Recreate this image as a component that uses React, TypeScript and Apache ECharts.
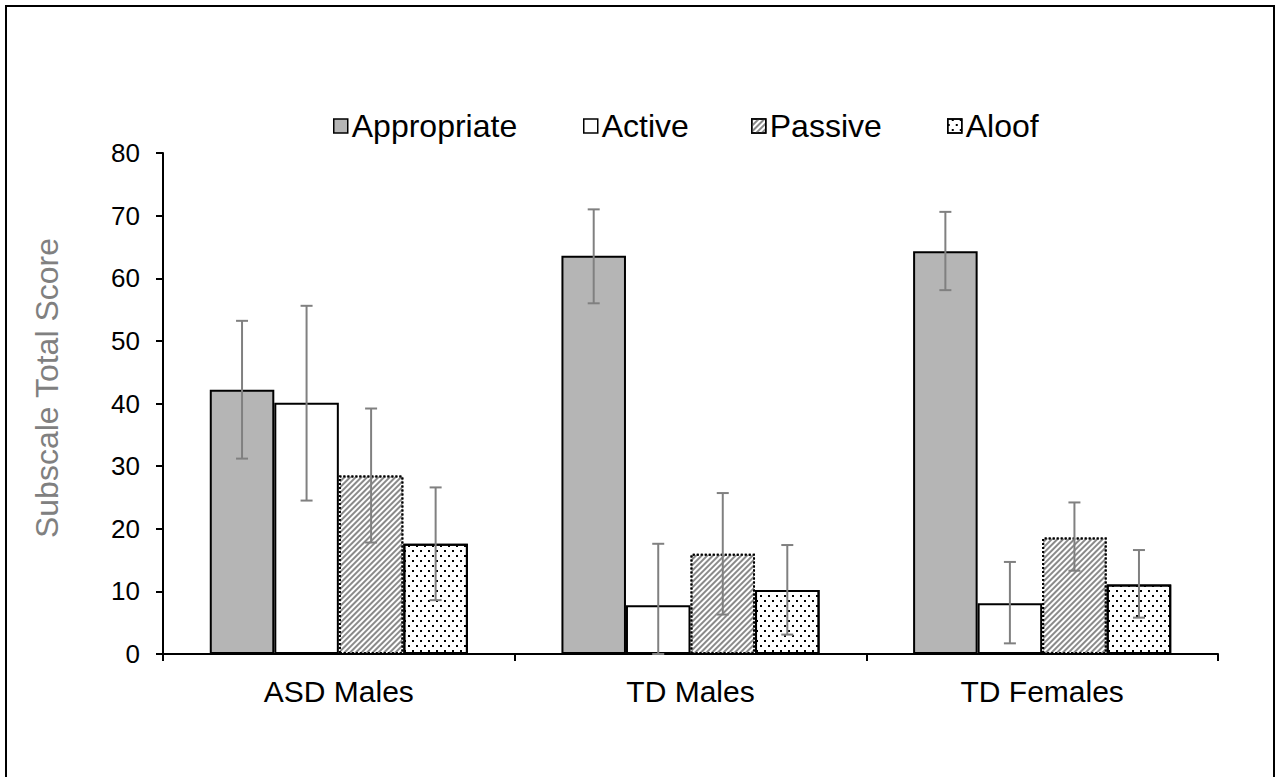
import React, { useEffect, useRef } from "react";
import * as echarts from "echarts";

const categories = ["ASD Males", "TD Males", "TD Females"];
const seriesNames = ["Appropriate", "Active", "Passive", "Aloof"];
const yTicks = [0, 10, 20, 30, 40, 50, 60, 70, 80];
const yTitle = "Subscale Total Score";

const appropriate = [42.2, 63.6, 64.3];
const active = [40.1, 7.8, 8.1];
const passive = [28.5, 16.0, 18.6];
const aloof = [17.6, 10.2, 11.1];

const appropriateLow = [31.2, 56.0, 58.1];
const appropriateHigh = [53.2, 71.0, 70.6];
const activeLow = [24.5, 0, 1.7];
const activeHigh = [55.6, 17.6, 14.7];
const passiveLow = [17.8, 6.3, 13.3];
const passiveHigh = [39.2, 25.7, 24.2];
const aloofLow = [8.6, 3.1, 5.8];
const aloofHigh = [26.6, 17.4, 16.6];

const FONT = "'Liberation Sans', Arial, sans-serif";
const GAP = 0.266;
const legendLefts = [333, 583, 751, 947];

export default function App() {
  const ref = useRef<HTMLDivElement>(null);
  useEffect(() => {
    if (!ref.current) return;
    const chart = echarts.init(ref.current, null, { renderer: "svg" });
    const values = [appropriate, active, passive, aloof];
    const lows = [appropriateLow, activeLow, passiveLow, aloofLow];
    const highs = [appropriateHigh, activeHigh, passiveHigh, aloofHigh];

    const styles: any[] = [
      { color: "#b5b5b5", borderColor: "#000", borderWidth: 2 },
      { color: "#ffffff", borderColor: "#000", borderWidth: 2 },
      {
        color: "#ffffff",
        borderColor: "#000",
        borderWidth: 2,
        borderType: "dotted",
        decal: {
          symbol: "rect",
          symbolSize: 1,
          color: "#8a8a8a",
          backgroundColor: "#ffffff",
          dashArrayX: [1, 0],
          dashArrayY: [1.7, 1.6],
          rotation: -Math.PI / 4,
        },
      },
      {
        color: "#ffffff",
        borderColor: "#000",
        borderWidth: 2,
        decal: {
          symbol: "rect",
          symbolSize: 1,
          color: "#000000",
          backgroundColor: "#ffffff",
          dashArrayX: [
            [1.5, 5.5],
            [0, 3.5, 1.5, 2],
          ],
          dashArrayY: [1.5, 2.5],
          rotation: 0,
        },
      },
    ];

    const barSeries = seriesNames.map((name, i) => ({
      name,
      type: "bar",
      data: values[i],
      barGap: "0%",
      barCategoryGap: (GAP * 100).toFixed(1) + "%",
      itemStyle: styles[i],
      emphasis: { disabled: true },
      z: 2,
    }));

    const errorSeries = seriesNames.map((name, i) => ({
      name: name + " error",
      type: "custom",
      z: 5,
      data: categories.map((_, c) => [c, lows[i][c], highs[i][c]]),
      renderItem: (params: any, api: any) => {
        const c = api.value(0);
        const lo = api.coord([c, api.value(1)]);
        const hi = api.coord([c, api.value(2)]);
        const band = api.size([1, 0])[0];
        const bw = (band * (1 - GAP)) / 4;
        const x = lo[0] + (i - 1.5) * bw;
        const cap = 6;
        const st = { stroke: "#808080", lineWidth: 2 };
        return {
          type: "group",
          children: [
            { type: "line", shape: { x1: x, y1: lo[1], x2: x, y2: hi[1] }, style: st },
            { type: "line", shape: { x1: x - cap, y1: hi[1], x2: x + cap, y2: hi[1] }, style: st },
            { type: "line", shape: { x1: x - cap, y1: lo[1], x2: x + cap, y2: lo[1] }, style: st },
          ],
        };
      },
    }));

    const legends = seriesNames.map((name, i) => ({
      data: [{ name, icon: "rect" }],
      left: legendLefts[i],
      top: 110,
      padding: 0,
      itemWidth: 14,
      itemHeight: 14,
      itemGap: 5,
      textStyle: { fontSize: 32, color: "#000", fontFamily: FONT, padding: [0, 0, 0, -1] },
      itemStyle: { borderWidth: 1.5, borderColor: "#000" },
      selectedMode: false,
    }));

    chart.setOption({
      animation: false,
      backgroundColor: "#ffffff",
      textStyle: { fontFamily: FONT },
      graphic: [
        {
          type: "rect",
          shape: { x: 6, y: 6, width: 1268, height: 780 },
          style: { fill: "none", stroke: "#000", lineWidth: 2 },
          silent: true,
        },
        {
          type: "text",
          x: 47,
          y: 388,
          rotation: Math.PI / 2,
          silent: true,
          style: {
            text: yTitle,
            fill: "#808080",
            font: "32px " + FONT,
            align: "center",
            verticalAlign: "middle",
          },
        },
      ],
      legend: legends,
      grid: { left: 163, right: 64, top: 153, bottom: 123, containLabel: false },
      xAxis: {
        type: "category",
        data: categories,
        axisLine: { lineStyle: { color: "#000", width: 2 } },
        axisTick: { show: true, length: 7, lineStyle: { color: "#000", width: 2 } },
        axisLabel: { color: "#000", fontSize: 30, margin: 22, fontFamily: FONT },
      },
      yAxis: {
        type: "value",
        min: yTicks[0],
        max: yTicks[yTicks.length - 1],
        interval: 10,
        splitLine: { show: false },
        axisLine: { show: true, lineStyle: { color: "#000", width: 2 } },
        axisTick: { show: true, length: 7, lineStyle: { color: "#000", width: 2 } },
        axisLabel: { color: "#000", fontSize: 26, margin: 23, fontFamily: FONT },
      },
      series: [...barSeries, ...errorSeries],
    });
    return () => chart.dispose();
  }, []);
  return (
    <div
      ref={ref}
      style={{ position: "fixed", left: 0, top: 0, width: 1282, height: 777, background: "#fff" }}
    />
  );
}
